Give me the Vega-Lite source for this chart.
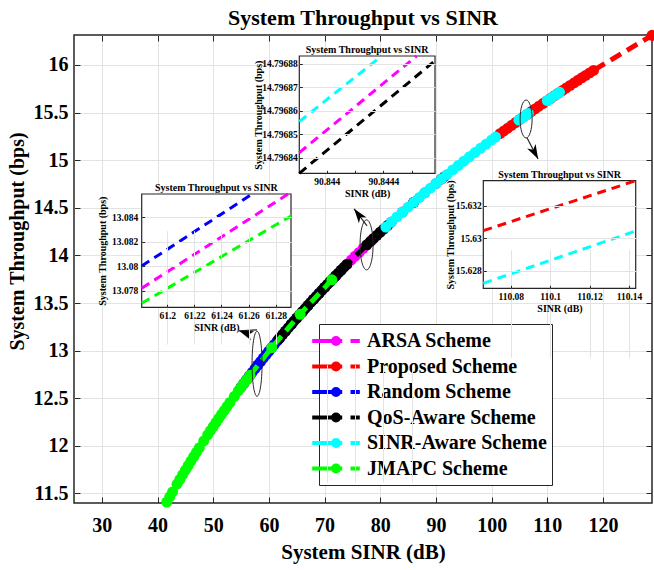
{
"$schema":"https://vega.github.io/schema/vega-lite/v6.json",
"width":578,"height":468,
"autosize":{"type":"none"},
"padding":{"left":74,"top":35,"right":2,"bottom":67},
"background":"white",
"title":{"text":"System Throughput vs SINR","fontSize":22,"font":"Liberation Serif","fontWeight":"bold","color":"#000","anchor":"middle","frame":"group","offset":-5},
"config":{
 "font":"Liberation Serif",
 "view":{"stroke":"#262626","strokeWidth":1.5},
 "axis":{"labelFont":"Liberation Serif","labelFontWeight":"bold","labelColor":"#000","titleFont":"Liberation Serif","titleFontWeight":"bold","titleColor":"#000","tickColor":"#262626","gridColor":"#e3e3e3","domain":false,"labelOverlap":false,"labelFlush":false}
},
"datasets":{"main":[
{"series":"ARSA Scheme","x":58,"y":12.847},{"series":"ARSA Scheme","x":60,"y":12.995},{"series":"ARSA Scheme","x":62,"y":13.137},{"series":"ARSA Scheme","x":64,"y":13.275},{"series":"ARSA Scheme","x":66,"y":13.408},{"series":"ARSA Scheme","x":68,"y":13.538},{"series":"ARSA Scheme","x":70,"y":13.664},{"series":"ARSA Scheme","x":72,"y":13.786},{"series":"ARSA Scheme","x":74,"y":13.905},{"series":"ARSA Scheme","x":74.8,"y":13.952},{"series":"ARSA Scheme","x":75.5,"y":13.993},{"series":"ARSA Scheme","x":76.2,"y":14.032},{"series":"ARSA Scheme","x":76.9,"y":14.072},{"series":"ARSA Scheme","x":77.5,"y":14.106},{"series":"ARSA Scheme","x":78.5,"y":14.162},{"series":"ARSA Scheme","x":80,"y":14.244},{"series":"ARSA Scheme","x":82,"y":14.351},{"series":"ARSA Scheme","x":84,"y":14.456},{"series":"ARSA Scheme","x":86,"y":14.558},{"series":"ARSA Scheme","x":88,"y":14.658},{"series":"ARSA Scheme","x":90,"y":14.755},{"series":"ARSA Scheme","x":91.5,"y":14.827},
{"series":"Proposed Scheme","x":101.5,"y":15.278},{"series":"Proposed Scheme","x":102.2,"y":15.307},{"series":"Proposed Scheme","x":102.9,"y":15.337},{"series":"Proposed Scheme","x":103.6,"y":15.366},{"series":"Proposed Scheme","x":104.3,"y":15.396},{"series":"Proposed Scheme","x":105,"y":15.425},{"series":"Proposed Scheme","x":105.7,"y":15.454},{"series":"Proposed Scheme","x":106.4,"y":15.482},{"series":"Proposed Scheme","x":107.1,"y":15.511},{"series":"Proposed Scheme","x":107.8,"y":15.539},{"series":"Proposed Scheme","x":108.5,"y":15.567},{"series":"Proposed Scheme","x":109.2,"y":15.595},{"series":"Proposed Scheme","x":109.9,"y":15.623},{"series":"Proposed Scheme","x":110.6,"y":15.65},{"series":"Proposed Scheme","x":111.3,"y":15.678},{"series":"Proposed Scheme","x":112,"y":15.705},{"series":"Proposed Scheme","x":112.7,"y":15.732},{"series":"Proposed Scheme","x":113.4,"y":15.759},{"series":"Proposed Scheme","x":114.1,"y":15.786},{"series":"Proposed Scheme","x":114.8,"y":15.812},{"series":"Proposed Scheme","x":115.5,"y":15.839},{"series":"Proposed Scheme","x":116.2,"y":15.865},{"series":"Proposed Scheme","x":116.9,"y":15.891},{"series":"Proposed Scheme","x":117.6,"y":15.917},{"series":"Proposed Scheme","x":118.3,"y":15.943},{"series":"Proposed Scheme","x":128.8,"y":16.312},
{"series":"Random Scheme","x":55,"y":12.617},{"series":"Random Scheme","x":55.5,"y":12.656},{"series":"Random Scheme","x":56,"y":12.695},{"series":"Random Scheme","x":56.5,"y":12.734},{"series":"Random Scheme","x":57,"y":12.772},{"series":"Random Scheme","x":57.5,"y":12.81},{"series":"Random Scheme","x":58,"y":12.847},{"series":"Random Scheme","x":58.5,"y":12.885},{"series":"Random Scheme","x":59,"y":12.922},{"series":"Random Scheme","x":59.5,"y":12.959},{"series":"Random Scheme","x":60,"y":12.995},{"series":"Random Scheme","x":60.5,"y":13.031},{"series":"Random Scheme","x":61,"y":13.066},{"series":"Random Scheme","x":61.5,"y":13.102},{"series":"Random Scheme","x":62,"y":13.137},{"series":"Random Scheme","x":63,"y":13.206},{"series":"Random Scheme","x":64,"y":13.275},{"series":"Random Scheme","x":65,"y":13.342},{"series":"Random Scheme","x":66,"y":13.408},{"series":"Random Scheme","x":67,"y":13.474},{"series":"Random Scheme","x":68,"y":13.538},{"series":"Random Scheme","x":69,"y":13.601},{"series":"Random Scheme","x":70,"y":13.664},{"series":"Random Scheme","x":71,"y":13.726},{"series":"Random Scheme","x":72,"y":13.786},{"series":"Random Scheme","x":73,"y":13.846},
{"series":"QoS-Aware Scheme","x":61.8,"y":13.123},{"series":"QoS-Aware Scheme","x":62.5,"y":13.172},{"series":"QoS-Aware Scheme","x":63,"y":13.206},{"series":"QoS-Aware Scheme","x":63.5,"y":13.241},{"series":"QoS-Aware Scheme","x":64,"y":13.275},{"series":"QoS-Aware Scheme","x":64.5,"y":13.309},{"series":"QoS-Aware Scheme","x":65,"y":13.342},{"series":"QoS-Aware Scheme","x":65.5,"y":13.375},{"series":"QoS-Aware Scheme","x":66,"y":13.408},{"series":"QoS-Aware Scheme","x":66.5,"y":13.441},{"series":"QoS-Aware Scheme","x":67,"y":13.474},{"series":"QoS-Aware Scheme","x":67.5,"y":13.506},{"series":"QoS-Aware Scheme","x":68,"y":13.538},{"series":"QoS-Aware Scheme","x":68.5,"y":13.57},{"series":"QoS-Aware Scheme","x":69,"y":13.601},{"series":"QoS-Aware Scheme","x":69.5,"y":13.633},{"series":"QoS-Aware Scheme","x":70,"y":13.664},{"series":"QoS-Aware Scheme","x":70.5,"y":13.695},{"series":"QoS-Aware Scheme","x":71,"y":13.726},{"series":"QoS-Aware Scheme","x":71.5,"y":13.756},{"series":"QoS-Aware Scheme","x":72,"y":13.786},{"series":"QoS-Aware Scheme","x":72.5,"y":13.816},{"series":"QoS-Aware Scheme","x":73,"y":13.846},{"series":"QoS-Aware Scheme","x":73.5,"y":13.876},{"series":"QoS-Aware Scheme","x":74,"y":13.905},{"series":"QoS-Aware Scheme","x":77.6,"y":14.112},{"series":"QoS-Aware Scheme","x":78.2,"y":14.145},{"series":"QoS-Aware Scheme","x":78.8,"y":14.178},{"series":"QoS-Aware Scheme","x":79.4,"y":14.211},{"series":"QoS-Aware Scheme","x":80,"y":14.244},{"series":"QoS-Aware Scheme","x":80.6,"y":14.276},{"series":"QoS-Aware Scheme","x":81.3,"y":14.314},{"series":"QoS-Aware Scheme","x":86,"y":14.558},{"series":"QoS-Aware Scheme","x":91,"y":14.803},
{"series":"SINR-Aware Scheme","seg":1,"x":81,"y":14.298},{"series":"SINR-Aware Scheme","seg":1,"x":82,"y":14.351},{"series":"SINR-Aware Scheme","seg":1,"x":83,"y":14.404},{"series":"SINR-Aware Scheme","seg":1,"x":84,"y":14.456},{"series":"SINR-Aware Scheme","seg":1,"x":85,"y":14.507},{"series":"SINR-Aware Scheme","seg":1,"x":86,"y":14.558},{"series":"SINR-Aware Scheme","seg":1,"x":87,"y":14.608},{"series":"SINR-Aware Scheme","seg":1,"x":88,"y":14.658},{"series":"SINR-Aware Scheme","seg":1,"x":89,"y":14.707},{"series":"SINR-Aware Scheme","seg":1,"x":90,"y":14.755},{"series":"SINR-Aware Scheme","seg":1,"x":91,"y":14.803},{"series":"SINR-Aware Scheme","seg":1,"x":92,"y":14.851},{"series":"SINR-Aware Scheme","seg":1,"x":93,"y":14.898},{"series":"SINR-Aware Scheme","seg":1,"x":94,"y":14.944},{"series":"SINR-Aware Scheme","seg":1,"x":95,"y":14.99},{"series":"SINR-Aware Scheme","seg":1,"x":96,"y":15.036},{"series":"SINR-Aware Scheme","seg":1,"x":97,"y":15.081},{"series":"SINR-Aware Scheme","seg":1,"x":98,"y":15.125},{"series":"SINR-Aware Scheme","seg":1,"x":99,"y":15.169},{"series":"SINR-Aware Scheme","seg":1,"x":100,"y":15.213},{"series":"SINR-Aware Scheme","seg":1,"x":100.7,"y":15.243},
{"series":"SINR-Aware Scheme","seg":2,"x":104.9,"y":15.421},{"series":"SINR-Aware Scheme","seg":2,"x":105.5,"y":15.446},{"series":"SINR-Aware Scheme","seg":2,"x":106.1,"y":15.47},{"series":"SINR-Aware Scheme","seg":2,"x":106.6,"y":15.491},
{"series":"SINR-Aware Scheme","seg":3,"x":110,"y":15.627},{"series":"SINR-Aware Scheme","seg":3,"x":110.8,"y":15.658},{"series":"SINR-Aware Scheme","seg":3,"x":111.6,"y":15.689},{"series":"SINR-Aware Scheme","seg":3,"x":112.2,"y":15.713},
{"series":"JMAPC Scheme","x":41.65,"y":11.41},{"series":"JMAPC Scheme","x":42.2,"y":11.466},{"series":"JMAPC Scheme","x":42.7,"y":11.517},{"series":"JMAPC Scheme","x":43.5,"y":11.598},{"series":"JMAPC Scheme","x":44,"y":11.648},{"series":"JMAPC Scheme","x":44.5,"y":11.697},{"series":"JMAPC Scheme","x":45,"y":11.745},{"series":"JMAPC Scheme","x":45.5,"y":11.793},{"series":"JMAPC Scheme","x":46,"y":11.841},{"series":"JMAPC Scheme","x":46.5,"y":11.888},{"series":"JMAPC Scheme","x":47,"y":11.934},{"series":"JMAPC Scheme","x":47.5,"y":11.98},{"series":"JMAPC Scheme","x":48.3,"y":12.052},{"series":"JMAPC Scheme","x":49,"y":12.115},{"series":"JMAPC Scheme","x":49.5,"y":12.159},{"series":"JMAPC Scheme","x":50,"y":12.203},{"series":"JMAPC Scheme","x":50.5,"y":12.246},{"series":"JMAPC Scheme","x":51,"y":12.289},{"series":"JMAPC Scheme","x":51.5,"y":12.331},{"series":"JMAPC Scheme","x":52,"y":12.373},{"series":"JMAPC Scheme","x":52.5,"y":12.415},{"series":"JMAPC Scheme","x":53,"y":12.456},{"series":"JMAPC Scheme","x":53.8,"y":12.521},{"series":"JMAPC Scheme","x":54.5,"y":12.577},{"series":"JMAPC Scheme","x":55,"y":12.617},{"series":"JMAPC Scheme","x":55.5,"y":12.656},{"series":"JMAPC Scheme","x":56,"y":12.695},{"series":"JMAPC Scheme","x":56.6,"y":12.741},{"series":"JMAPC Scheme","x":60.5,"y":13.031},{"series":"JMAPC Scheme","x":65.6,"y":13.382},{"series":"JMAPC Scheme","x":71.3,"y":13.744}
]},
"resolve":{"scale":{"x":"independent","y":"independent"}},
"layer":[
{
 "data":{"name":"main"},
 "encoding":{
  "x":{"field":"x","type":"quantitative","scale":{"domain":[25,128.8],"nice":false,"zero":false},
   "axis":{"orient":"bottom","values":[30,40,50,60,70,80,90,100,110,120],"grid":true,"tickSize":-6,"labelFontSize":20,"labelPadding":18,"title":"System SINR (dB)","titleFontSize":21,"titleY":55,"titleBaseline":"alphabetic"}},
  "y":{"field":"y","type":"quantitative","scale":{"domain":[11.4,16.315],"nice":false,"zero":false},
   "axis":{"orient":"left","values":[11.5,12,12.5,13,13.5,14,14.5,15,15.5,16],"format":"~g","grid":true,"tickSize":-6,"labelFontSize":20,"labelPadding":12,"title":"System Throughput (bps)","titleFontSize":20,"titleX":-47,"titleY":206}},
  "color":{"field":"series","type":"nominal",
   "scale":{"domain":["ARSA Scheme","Proposed Scheme","Random Scheme","QoS-Aware Scheme","SINR-Aware Scheme","JMAPC Scheme"],"range":["#ff00ff","#ff0000","#0000ff","#000000","#00ffff","#00ff00"]},
   "legend":{"orient":"none","legendX":245,"legendY":289,"title":null,
    "symbolType":"M-2.38,0L0.62,0M1.45,0L2.38,0M0.3,0C0.3,0.166 0.166,0.3 0,0.3C-0.166,0.3 -0.3,0.166 -0.3,0C-0.3,-0.166 -0.166,-0.3 0,-0.3C0.166,-0.3 0.3,-0.166 0.3,0Z",
    "symbolSize":400,"symbolStrokeWidth":4,"labelFont":"Liberation Serif","labelFontWeight":"bold","labelFontSize":20,"labelColor":"#000","labelOffset":19,"rowPadding":2.5,"padding":5,"strokeColor":"#262626","fillColor":"#ffffff","labelLimit":400,
    "encode":{"symbols":{"update":{"stroke":{"scale":"color","field":"value"},"fill":{"scale":"color","field":"value"},"strokeWidth":{"value":4},"strokeDash":{"value":[]},"opacity":{"value":1}}}}}}
 },
 "layer":[
  {"transform":[{"filter":"datum.series==='ARSA Scheme'"}],"mark":{"type":"line","strokeWidth":5,"strokeDash":[12,7]}},
  {"transform":[{"filter":"datum.series==='ARSA Scheme'"}],"mark":{"type":"point","filled":true,"size":120,"opacity":1}},
  {"transform":[{"filter":"datum.series==='Proposed Scheme'"}],"mark":{"type":"line","strokeWidth":5,"strokeDash":[12,7]}},
  {"transform":[{"filter":"datum.series==='Proposed Scheme'"}],"mark":{"type":"point","filled":true,"size":120,"opacity":1}},
  {"transform":[{"filter":"datum.series==='Random Scheme'"}],"mark":{"type":"line","strokeWidth":5,"strokeDash":[12,7]}},
  {"transform":[{"filter":"datum.series==='Random Scheme'"}],"mark":{"type":"point","filled":true,"size":120,"opacity":1}},
  {"transform":[{"filter":"datum.series==='QoS-Aware Scheme'"}],"mark":{"type":"line","strokeWidth":5,"strokeDash":[12,7]}},
  {"transform":[{"filter":"datum.series==='QoS-Aware Scheme'"}],"mark":{"type":"point","filled":true,"size":120,"opacity":1}},
  {"transform":[{"filter":"datum.series==='SINR-Aware Scheme'"}],"mark":{"type":"line","strokeWidth":5,"strokeDash":[12,7]},"encoding":{"detail":{"field":"seg"}}},
  {"transform":[{"filter":"datum.series==='SINR-Aware Scheme'"}],"mark":{"type":"point","filled":true,"size":120,"opacity":1}},
  {"transform":[{"filter":"datum.series==='JMAPC Scheme'"}],"mark":{"type":"line","strokeWidth":5,"strokeDash":[12,7]}},
  {"transform":[{"filter":"datum.series==='JMAPC Scheme'"}],"mark":{"type":"point","filled":true,"size":120,"opacity":1}}
 ]
},
{
 "encoding":{
  "x":{"field":"x","type":"quantitative","scale":{"domain":[90.8438066,90.8447645],"range":[225.3,361],"nice":false,"zero":false},
   "axis":{"orient":"bottom","offset":-329.7,"values":[90.844,90.8442,90.8444,90.8446],"labelExpr":"abs(datum.value-90.844)<0.00001 ? '90.844' : (abs(datum.value-90.8444)<0.00001 ? '90.8444' : '')","grid":true,"tickSize":-3,"labelFontSize":9.5,"labelPadding":6,"title":"SINR (dB)","titleFontSize":10,"titlePadding":3,"zindex":1}},
  "y":{"field":"y","type":"quantitative","scale":{"domain":[14.7968333,14.7968834],"range":[138.3,21],"nice":false,"zero":false},
   "axis":{"orient":"left","offset":-225.3,"values":[14.79684,14.79685,14.79686,14.79687,14.79688],"format":".5f","grid":true,"tickSize":-3,"labelFontSize":9.5,"labelPadding":5,"title":"System Throughput (bps)","titleFontSize":10,"titleX":-36,"zindex":1}}
 },
 "layer":[
  {"data":{"values":[{"x":90.8438066,"y":14.7968333,"x2v":90.8447645,"y2v":14.7968834}]},"mark":{"type":"rect","fill":"white","stroke":"#262626","strokeWidth":1.2},"encoding":{"x2":{"field":"x2v"},"y2":{"field":"y2v"}}},
  {"data":{"values":[
   {"series":"SINR-Aware Scheme","x":90.8438066,"y":14.7968554},{"series":"SINR-Aware Scheme","x":90.844388,"y":14.7968834},
   {"series":"ARSA Scheme","x":90.8438066,"y":14.7968421},{"series":"ARSA Scheme","x":90.844635,"y":14.7968834},
   {"series":"QoS-Aware Scheme","x":90.8438066,"y":14.7968333},{"series":"QoS-Aware Scheme","x":90.8447645,"y":14.7968814}]},
   "mark":{"type":"line","strokeWidth":3,"strokeDash":[9,6]},
   "encoding":{"color":{"field":"series","type":"nominal","scale":{"domain":["ARSA Scheme","Proposed Scheme","Random Scheme","QoS-Aware Scheme","SINR-Aware Scheme","JMAPC Scheme"],"range":["#ff00ff","#ff0000","#0000ff","#000000","#00ffff","#00ff00"]},"legend":null}}},
  {"data":{"values":[{"x":90.84428555,"y":14.7968834,"t":"System Throughput vs SINR"}]},"mark":{"type":"text","font":"Liberation Serif","fontSize":10,"fontWeight":"bold","baseline":"bottom","dy":-1,"color":"#000"},"encoding":{"text":{"field":"t"}}}
 ]
},
{
 "encoding":{
  "x":{"field":"x","type":"quantitative","scale":{"domain":[61.18111,61.29129],"range":[67.7,217],"nice":false,"zero":false},
   "axis":{"orient":"bottom","offset":-195.7,"values":[61.2,61.22,61.24,61.26,61.28],"format":".2~f","grid":true,"tickSize":-3,"labelFontSize":9.5,"labelPadding":6,"title":"SINR (dB)","titleFontSize":10,"titlePadding":3,"zindex":1}},
  "y":{"field":"y","type":"quantitative","scale":{"domain":[13.076643,13.085905],"range":[272.3,159],"nice":false,"zero":false},
   "axis":{"orient":"left","offset":-67.7,"values":[13.078,13.08,13.082,13.084],"format":".3~f","grid":true,"tickSize":-3,"labelFontSize":9.5,"labelPadding":7,"title":"System Throughput (bps)","titleFontSize":10,"titleX":-34,"zindex":1}}
 },
 "layer":[
  {"data":{"values":[{"x":61.18111,"y":13.076643,"x2v":61.29129,"y2v":13.085905}]},"mark":{"type":"rect","fill":"white","stroke":"#262626","strokeWidth":1.2},"encoding":{"x2":{"field":"x2v"},"y2":{"field":"y2v"}}},
  {"data":{"values":[
   {"series":"Random Scheme","x":61.18111,"y":13.08002},{"series":"Random Scheme","x":61.2627,"y":13.085905},
   {"series":"ARSA Scheme","x":61.18111,"y":13.0782},{"series":"ARSA Scheme","x":61.28917,"y":13.085905},
   {"series":"JMAPC Scheme","x":61.18111,"y":13.07697},{"series":"JMAPC Scheme","x":61.29129,"y":13.08411}]},
   "mark":{"type":"line","strokeWidth":3,"strokeDash":[9,6]},
   "encoding":{"color":{"field":"series","type":"nominal","scale":{"domain":["ARSA Scheme","Proposed Scheme","Random Scheme","QoS-Aware Scheme","SINR-Aware Scheme","JMAPC Scheme"],"range":["#ff00ff","#ff0000","#0000ff","#000000","#00ffff","#00ff00"]},"legend":null}}},
  {"data":{"values":[{"x":61.2362,"y":13.085905,"t":"System Throughput vs SINR"}]},"mark":{"type":"text","font":"Liberation Serif","fontSize":10,"fontWeight":"bold","baseline":"bottom","dy":-1,"color":"#000"},"encoding":{"text":{"field":"t"}}}
 ]
},
{
 "encoding":{
  "x":{"field":"x","type":"quantitative","scale":{"domain":[110.0661,110.1434],"range":[409.3,561.7],"nice":false,"zero":false},
   "axis":{"orient":"bottom","offset":-214.7,"values":[110.08,110.1,110.12,110.14],"format":".2~f","grid":true,"tickSize":-3,"labelFontSize":9.5,"labelPadding":6,"title":"SINR (dB)","titleFontSize":10,"titlePadding":3,"zindex":1}},
  "y":{"field":"y","type":"quantitative","scale":{"domain":[15.626912,15.633564],"range":[253.3,145.7],"nice":false,"zero":false},
   "axis":{"orient":"left","offset":-409.3,"values":[15.628,15.63,15.632],"format":".3~f","grid":true,"tickSize":-3,"labelFontSize":9.5,"labelPadding":5,"title":"System Throughput (bps)","titleFontSize":10,"titleX":-28,"zindex":1}}
 },
 "layer":[
  {"data":{"values":[{"x":110.0661,"y":15.626912,"x2v":110.1434,"y2v":15.633564}]},"mark":{"type":"rect","fill":"white","stroke":"#262626","strokeWidth":1.2},"encoding":{"x2":{"field":"x2v"},"y2":{"field":"y2v"}}},
  {"data":{"values":[
   {"series":"Proposed Scheme","x":110.0661,"y":15.630473},{"series":"Proposed Scheme","x":110.1434,"y":15.633564},
   {"series":"SINR-Aware Scheme","x":110.0661,"y":15.627221},{"series":"SINR-Aware Scheme","x":110.1434,"y":15.630454}]},
   "mark":{"type":"line","strokeWidth":3,"strokeDash":[9,6]},
   "encoding":{"color":{"field":"series","type":"nominal","scale":{"domain":["ARSA Scheme","Proposed Scheme","Random Scheme","QoS-Aware Scheme","SINR-Aware Scheme","JMAPC Scheme"],"range":["#ff00ff","#ff0000","#0000ff","#000000","#00ffff","#00ff00"]},"legend":null}}},
  {"data":{"values":[{"x":110.10475,"y":15.633564,"t":"System Throughput vs SINR"}]},"mark":{"type":"text","font":"Liberation Serif","fontSize":10,"fontWeight":"bold","baseline":"bottom","dy":-1,"color":"#000"},"encoding":{"text":{"field":"t"}}}
 ]
},
{
 "encoding":{
  "x":{"field":"x","type":"quantitative","scale":{"domain":[25,128.8],"nice":false,"zero":false},
   "axis":{"orient":"top","values":[30,40,50,60,70,80,90,100,110,120],"labels":false,"tickSize":-6,"grid":false,"title":null}},
  "y":{"field":"y","type":"quantitative","scale":{"domain":[11.4,16.315],"nice":false,"zero":false},
   "axis":{"orient":"right","values":[11.5,12,12.5,13,13.5,14,14.5,15,15.5,16],"labels":false,"tickSize":-6,"grid":false,"title":null}}
 },
 "layer":[
  {"data":{"values":[{"x":57.87,"y":12.862}]},"mark":{"type":"point","shape":"M0,-1C0.085,-1 0.154,-0.552 0.154,0C0.154,0.552 0.085,1 0,1C-0.085,1 -0.154,0.552 -0.154,0C-0.154,-0.552 -0.085,-1 0,-1Z","size":4225,"filled":false,"stroke":"#262626","strokeWidth":1,"opacity":1}},
  {"data":{"values":[{"x":77.54,"y":14.111}]},"mark":{"type":"point","shape":"M0,-1C0.144,-1 0.26,-0.552 0.26,0C0.26,0.552 0.144,1 0,1C-0.144,1 -0.26,0.552 -0.26,0C-0.26,-0.552 -0.144,-1 0,-1Z","size":2500,"filled":false,"stroke":"#262626","strokeWidth":1,"opacity":1}},
  {"data":{"values":[{"x":106.19,"y":15.433}]},"mark":{"type":"point","shape":"M0,-1C0.174,-1 0.316,-0.552 0.316,0C0.316,0.552 0.174,1 0,1C-0.174,1 -0.316,0.552 -0.316,0C-0.316,-0.552 -0.174,-1 0,-1Z","size":1444,"filled":false,"stroke":"#262626","strokeWidth":1,"opacity":1}},
  {"data":{"values":[
   {"a":"1","x":57.87,"y":13.218},{"a":"1","x":54.64,"y":13.208},
   {"a":"2","x":77.63,"y":14.31},{"a":"2","x":75.3,"y":14.489},
   {"a":"3","x":106.37,"y":15.234},{"a":"3","x":108.35,"y":15.013}]},
   "mark":{"type":"line","color":"#262626","strokeWidth":1.2},"encoding":{"detail":{"field":"a"}}},
  {"data":{"values":[{"x":54.64,"y":13.208}]},"mark":{"type":"point","shape":"M0,0L0.6,1.8L0,1.3L-0.6,1.8Z","size":256,"filled":true,"color":"#000","angle":290,"opacity":1}},
  {"data":{"values":[{"x":75.3,"y":14.489}]},"mark":{"type":"point","shape":"M0,0L0.6,1.8L0,1.3L-0.6,1.8Z","size":256,"filled":true,"color":"#000","angle":323,"opacity":1}},
  {"data":{"values":[{"x":108.35,"y":15.013}]},"mark":{"type":"point","shape":"M0,0L0.6,1.8L0,1.3L-0.6,1.8Z","size":256,"filled":true,"color":"#000","angle":152,"opacity":1}}
 ]
}
]
}
